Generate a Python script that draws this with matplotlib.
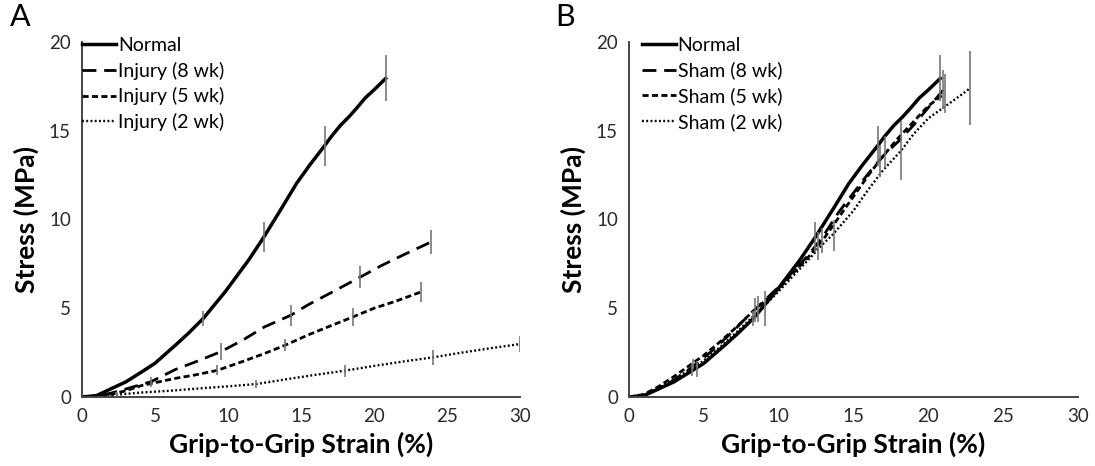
import numpy as np
import matplotlib
matplotlib.use("Agg")
import matplotlib.pyplot as plt

plt.rcParams['font.family'] = ['Lato', 'DejaVu Sans']

# ---- panel A data (strain %, stress MPa) ----
normal_x = [0, 1, 1.8, 3, 4.1, 5, 6.4, 7.3, 8.3, 9.8, 11.4, 12.4, 13.6, 14.7, 15.6, 16.6,
            17.1, 17.7, 18.3, 18.8, 19.4, 20.0, 20.8]
normal_y = [0, 0.08, 0.39, 0.85, 1.42, 1.9, 2.92, 3.6, 4.42, 5.92, 7.7, 8.94, 10.54, 12.04,
            13.07, 14.14, 14.7, 15.3, 15.8, 16.26, 16.85, 17.3, 17.95]
normal_ex = [8.3, 12.45, 16.64, 20.8]
normal_ey = [4.42, 9.0, 14.14, 17.95]
normal_err = [0.42, 0.84, 1.15, 1.3]

inj8_x = [0, 1, 2, 3, 4.72, 6.4, 8, 9.5, 11, 12.5, 14.29, 15.5, 17, 19.07, 20.5, 22, 23.9]
inj8_y = [0, 0.05, 0.22, 0.45, 0.86, 1.55, 2.05, 2.55, 3.2, 3.95, 4.6, 5.2, 5.85, 6.76, 7.4, 8.0, 8.73]
inj8_ex = [4.72, 9.5, 14.29, 19.07, 23.9]
inj8_ey = [0.86, 2.55, 4.6, 6.76, 8.73]
inj8_err = [0.28, 0.47, 0.58, 0.6, 0.7]

inj5_x = [0, 1, 2, 3, 4.1, 6.4, 7.8, 9.27, 11, 12.5, 13.92, 15.5, 17, 18.55, 20, 21.5, 23.22]
inj5_y = [0, 0.04, 0.15, 0.35, 0.65, 1.05, 1.25, 1.5, 2.0, 2.45, 2.92, 3.5, 4.0, 4.51, 5.0, 5.4, 5.92]
inj5_ex = [2.3, 9.27, 13.92, 18.55, 23.22]
inj5_ey = [0.2, 1.5, 2.92, 4.51, 5.92]
inj5_err = [0.1, 0.28, 0.35, 0.53, 0.56]

inj2_x = [0, 2, 4, 6, 8, 10, 11.94, 14, 16, 17.98, 20, 22, 24.01, 26, 28, 29.98]
inj2_y = [0, 0.1, 0.25, 0.35, 0.48, 0.6, 0.73, 1.0, 1.25, 1.48, 1.75, 2.0, 2.23, 2.5, 2.75, 2.98]
inj2_ex = [2.4, 11.94, 17.98, 24.01, 29.98]
inj2_ey = [0.12, 0.73, 1.48, 2.23, 2.98]
inj2_err = [0.1, 0.23, 0.35, 0.4, 0.47]

# ---- panel B data ----
sham8_x = [0, 1, 2, 3, 4, 5, 6, 7, 8, 9, 10, 11, 12, 13, 14, 15, 16, 17, 18, 19, 20, 21]
sham8_y = [0, 0.1, 0.45, 0.95, 1.55, 2.2, 2.95, 3.75, 4.6, 5.4, 6.2, 7.1, 8.0, 9.1, 10.4,
           11.5, 12.6, 13.6, 14.4, 15.3, 16.3, 17.3]
sham8_ex = [4.2, 8.4, 12.6, 16.8, 21.0]
sham8_ey = [1.55, 4.9, 8.5, 13.3, 17.3]
sham8_err = [0.35, 0.7, 0.8, 0.9, 1.1]

sham5_x = [0, 1, 2, 3, 4, 5, 6, 7, 8, 9, 10, 11, 12, 13, 14, 15, 16, 17, 18, 19, 20, 21.1]
sham5_y = [0, 0.15, 0.6, 1.15, 1.75, 2.35, 3.05, 3.8, 4.6, 5.35, 6.1, 7.0, 7.9, 8.9, 10.1,
           11.3, 12.5, 13.6, 14.6, 15.5, 16.4, 17.1]
sham5_ex = [4.3, 8.6, 12.9, 17.1, 21.1]
sham5_ey = [1.85, 4.95, 8.8, 13.8, 17.1]
sham5_err = [0.3, 0.75, 0.7, 0.9, 1.1]

sham2_x = [0, 1, 2, 3, 4, 4.56, 5, 6, 7, 8, 9.11, 10, 11, 12, 13, 13.67, 15, 16, 17, 18.2,
           19, 20, 21, 22, 22.8]
sham2_y = [0, 0.1, 0.5, 1.0, 1.5, 1.8, 2.05, 2.75, 3.5, 4.3, 5.2, 5.95, 6.85, 7.75, 8.65,
           9.2, 10.5, 11.7, 12.8, 13.9, 14.8, 15.7, 16.3, 16.9, 17.4]
sham2_ex = [4.56, 9.11, 13.67, 18.2, 22.8]
sham2_ey = [1.6, 5.0, 9.1, 13.9, 17.4]
sham2_err = [0.45, 1.0, 0.85, 1.65, 2.1]

labels_a = ['Normal', 'Injury (8 wk)', 'Injury (5 wk)', 'Injury (2 wk)']
labels_b = ['Normal', 'Sham (8 wk)', 'Sham (5 wk)', 'Sham (2 wk)']

styles = [dict(ls='-', lw=2.5),
          dict(ls=(0, (5.0, 2.8)), lw=2.0),
          dict(ls=(0, (2.2, 1.2)), lw=2.0),
          dict(ls=(0, (0.8, 1.0)), lw=1.7)]

fig = plt.figure(figsize=(10.95, 4.66), dpi=100)
ax1 = fig.add_axes([82 / 1095, 69 / 466, 438 / 1095, 355 / 466])
ax2 = fig.add_axes([629 / 1095, 69 / 466, 449 / 1095, 355 / 466])

series_a = [(normal_x, normal_y, normal_ex, normal_ey, normal_err),
            (inj8_x, inj8_y, inj8_ex, inj8_ey, inj8_err),
            (inj5_x, inj5_y, inj5_ex, inj5_ey, inj5_err),
            (inj2_x, inj2_y, inj2_ex, inj2_ey, inj2_err)]
series_b = [(normal_x, normal_y, normal_ex, normal_ey, normal_err),
            (sham8_x, sham8_y, sham8_ex, sham8_ey, sham8_err),
            (sham5_x, sham5_y, sham5_ex, sham5_ey, sham5_err),
            (sham2_x, sham2_y, sham2_ex, sham2_ey, sham2_err)]

for ax, series, labels, letter, lx in [(ax1, series_a, labels_a, 'A', 0.0),
                                       (ax2, series_b, labels_b, 'B', 0.028)]:
    for (sx, sy, ex, ey, err), st, lab in zip(series, styles, labels):
        ax.plot(sx, sy, color='black', label=lab, dash_capstyle='butt', **st)
        ax.errorbar(ex, ey, yerr=err, fmt='none', ecolor='#777777', elinewidth=1.2,
                    capsize=0, zorder=3)
    ax.set_xlim(0, 30)
    ax.set_ylim(0, 20)
    ax.set_xticks(range(0, 31, 5))
    ax.set_yticks(range(0, 21, 5))
    ax.tick_params(length=0, labelsize=13.5, colors='#2a2a2a', pad=8)
    for s in ['top', 'right']:
        ax.spines[s].set_visible(False)
    for s in ['left', 'bottom']:
        ax.spines[s].set_color('#444444')
        ax.spines[s].set_linewidth(1.4)
    ax.set_xlabel('Grip-to-Grip Strain (%)', fontsize=19, fontweight='bold', labelpad=5)
    ax.set_ylabel('Stress (MPa)', fontsize=19, fontweight='bold', labelpad=7)
    ax.legend(loc='upper left', bbox_to_anchor=(lx, 1.015), frameon=False, fontsize=14,
              handlelength=1.75, handletextpad=0.1, labelspacing=0.4,
              borderaxespad=0, borderpad=0)
    ax.text(-0.165, 1.07, letter, transform=ax.transAxes, fontsize=22, va='center', ha='left')

fig.savefig('out.png', dpi=100)
